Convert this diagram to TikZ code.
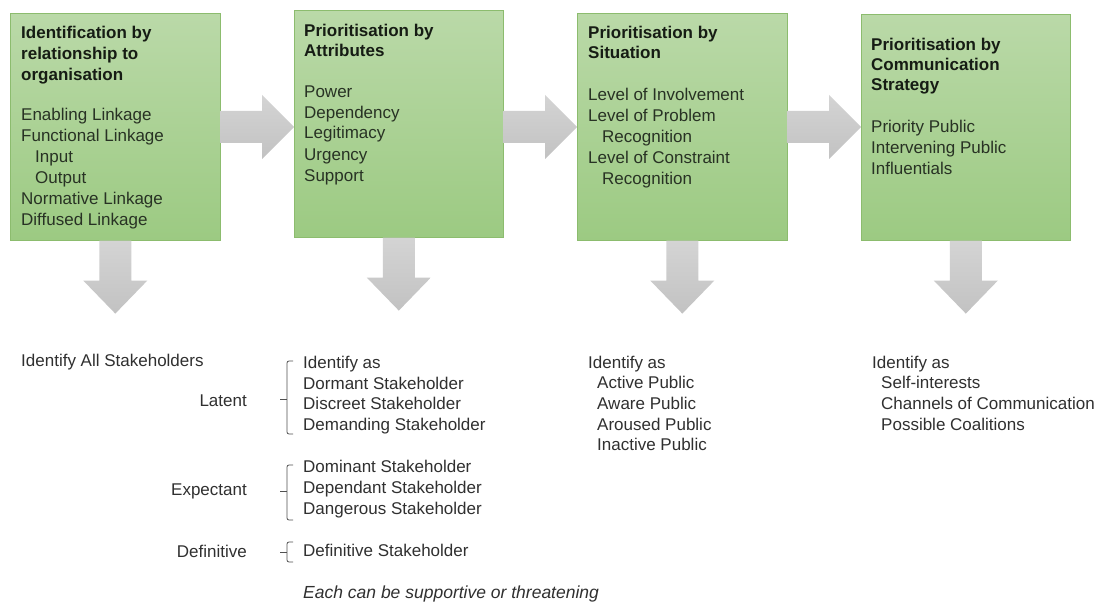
\documentclass[tikz,border=0pt]{standalone}
\usepackage{fontspec}
\setmainfont{Liberation Sans}
\usetikzlibrary{calc}
\definecolor{boxtop}{RGB}{186,217,168}
\definecolor{boxbot}{RGB}{156,202,130}
\definecolor{boxline}{RGB}{140,188,110}
\definecolor{arrowtop}{RGB}{212,212,212}
\definecolor{arrowbot}{RGB}{194,194,194}
\definecolor{titletext}{RGB}{22,28,20}
\definecolor{bodytext}{RGB}{40,50,36}
\definecolor{lowtext}{RGB}{48,48,48}
\definecolor{brkcol}{RGB}{80,80,80}
\newcommand\blockright[2]{%
  \shade[arrowshade] (#1.east |- 0,111) -- ($(#2.west |- 0,111)+(-32,0)$) -- ($(#2.west |- 0,95)+(-32,0)$) -- (#2.west |- 0,127) -- ($(#2.west |- 0,159)+(-32,0)$) -- ($(#2.west |- 0,143)+(-32,0)$) -- (#1.east |- 0,143) -- cycle;}
\newcommand\blockdown[1]{%
  \shade[arrowshade] ($(#1.south)+(-16,0)$) -- ($(#1.south)+(-16,40)$) -- ($(#1.south)+(-32,40)$) -- ($(#1.south)+(0,73)$) -- ($(#1.south)+(32,40)$) -- ($(#1.south)+(16,40)$) -- ($(#1.south)+(16,0)$) -- cycle;}
\begin{document}
\begin{tikzpicture}[x=1pt,y=-1pt,
  stagebox/.style={draw=boxline, line width=0.6pt, top color=boxtop, bottom color=boxbot, inner sep=0pt, anchor=north west},
  arrowshade/.style={top color=arrowtop, bottom color=arrowbot},
  ttl/.style={anchor=base west, inner sep=0pt, font=\bfseries\fontsize{17}{21}\selectfont, text=titletext},
  bdy/.style={anchor=base west, inner sep=0pt, font=\fontsize{17}{21}\selectfont, text=bodytext},
  low/.style={anchor=base west, inner sep=0pt, font=\fontsize{17}{21}\selectfont, text=lowtext},
  lowr/.style={anchor=base east, inner sep=0pt, font=\fontsize{17}{21}\selectfont, text=lowtext},
  brk/.style={draw=brkcol, line width=0.8pt, rounded corners=2pt}]
\useasboundingbox[fill=white] (0,0) rectangle (1106,604);

% boxes
\node[stagebox, minimum width=210pt, minimum height=227pt] (box1) at (10,13) {};
\node[stagebox, minimum width=209pt, minimum height=227pt] (box2) at (294,10) {};
\node[stagebox, minimum width=210pt, minimum height=227pt] (box3) at (577,13) {};
\node[stagebox, minimum width=209pt, minimum height=226pt] (box4) at (861,14) {};

% arrows
\blockright{box1}{box2}
\blockright{box2}{box3}
\blockright{box3}{box4}
\blockdown{box1}
\blockdown{box2}
\blockdown{box3}
\blockdown{box4}

% box 1 text
\node[ttl] (t1a) at (21,39) {Identification by};
\node[ttl] (t1b) at (21,60) {relationship to};
\node[ttl] (t1c) at (21,81) {organisation};
\node[bdy] (b1a) at (21,121) {Enabling Linkage};
\node[bdy] (b1b) at (21,142) {Functional Linkage};
\node[bdy] (b1c) at (35,163) {Input};
\node[bdy] (b1d) at (35,184) {Output};
\node[bdy] (b1e) at (21,205) {Normative Linkage};
\node[bdy] (b1f) at (21,226) {Diffused Linkage};

% box 2 text
\node[ttl] (t2a) at (304,37) {Prioritisation by};
\node[ttl] (t2b) at (304,57) {Attributes};
\node[bdy] (b2a) at (304,98) {Power};
\node[bdy] (b2b) at (304,119) {Dependency};
\node[bdy] (b2c) at (304,139) {Legitimacy};
\node[bdy] (b2d) at (304,161) {Urgency};
\node[bdy] (b2e) at (304,182) {Support};

% box 3 text
\node[ttl] (t3a) at (588,39) {Prioritisation by};
\node[ttl] (t3b) at (588,59) {Situation};
\node[bdy] (b3a) at (588,101) {Level of Involvement};
\node[bdy] (b3b) at (588,122) {Level of Problem};
\node[bdy] (b3c) at (602,143) {Recognition};
\node[bdy] (b3d) at (588,164) {Level of Constraint};
\node[bdy] (b3e) at (602,185) {Recognition};

% box 4 text
\node[ttl] (t4a) at (871,51) {Prioritisation by};
\node[ttl] (t4b) at (871,71) {Communication};
\node[ttl] (t4c) at (871,91) {Strategy};
\node[bdy] (b4a) at (871,133) {Priority Public};
\node[bdy] (b4b) at (871,154) {Intervening Public};
\node[bdy] (b4c) at (871,175) {Influentials};

% column 1 lower
\node[low] (l1a) at (21,366) {Identify All Stakeholders};
\node[lowr] (l1b) at (247,406) {Latent};
\node[lowr] (l1c) at (247,495) {Expectant};
\node[lowr] (l1d) at (247,557) {Definitive};

% brackets
\draw[brk] (293,361) -- (287,361) -- (287,434) -- (293,434);
\draw[brk] (280,399) -- (287,399);
\draw[brk] (293,465) -- (287,465) -- (287,520) -- (293,520);
\draw[brk] (280,491) -- (287,491);
\draw[brk] (293,542) -- (287,542) -- (287,562) -- (293,562);
\draw[brk] (280,552) -- (287,552);

% column 2 lower
\node[low] (l2a) at (303,368) {Identify as};
\node[low] (l2b) at (303,389) {Dormant Stakeholder};
\node[low] (l2c) at (303,409) {Discreet Stakeholder};
\node[low] (l2d) at (303,430) {Demanding Stakeholder};
\node[low] (l2e) at (303,472) {Dominant Stakeholder};
\node[low] (l2f) at (303,493) {Dependant Stakeholder};
\node[low] (l2g) at (303,514) {Dangerous Stakeholder};
\node[low] (l2h) at (303,556) {Definitive Stakeholder};
\node[low, font=\itshape\fontsize{17.5}{21}\selectfont] (l2i) at (303,598) {Each can be supportive or threatening};

% column 3 lower
\node[low] (l3a) at (588,368) {Identify as};
\node[low] (l3b) at (597,388) {Active Public};
\node[low] (l3c) at (597,409) {Aware Public};
\node[low] (l3d) at (597,430) {Aroused Public};
\node[low] (l3e) at (597,450) {Inactive Public};

% column 4 lower
\node[low] (l4a) at (872,368) {Identify as};
\node[low] (l4b) at (881,388) {Self-interests};
\node[low] (l4c) at (881,409) {Channels of Communication};
\node[low] (l4d) at (881,430) {Possible Coalitions};
\end{tikzpicture}
\end{document}
